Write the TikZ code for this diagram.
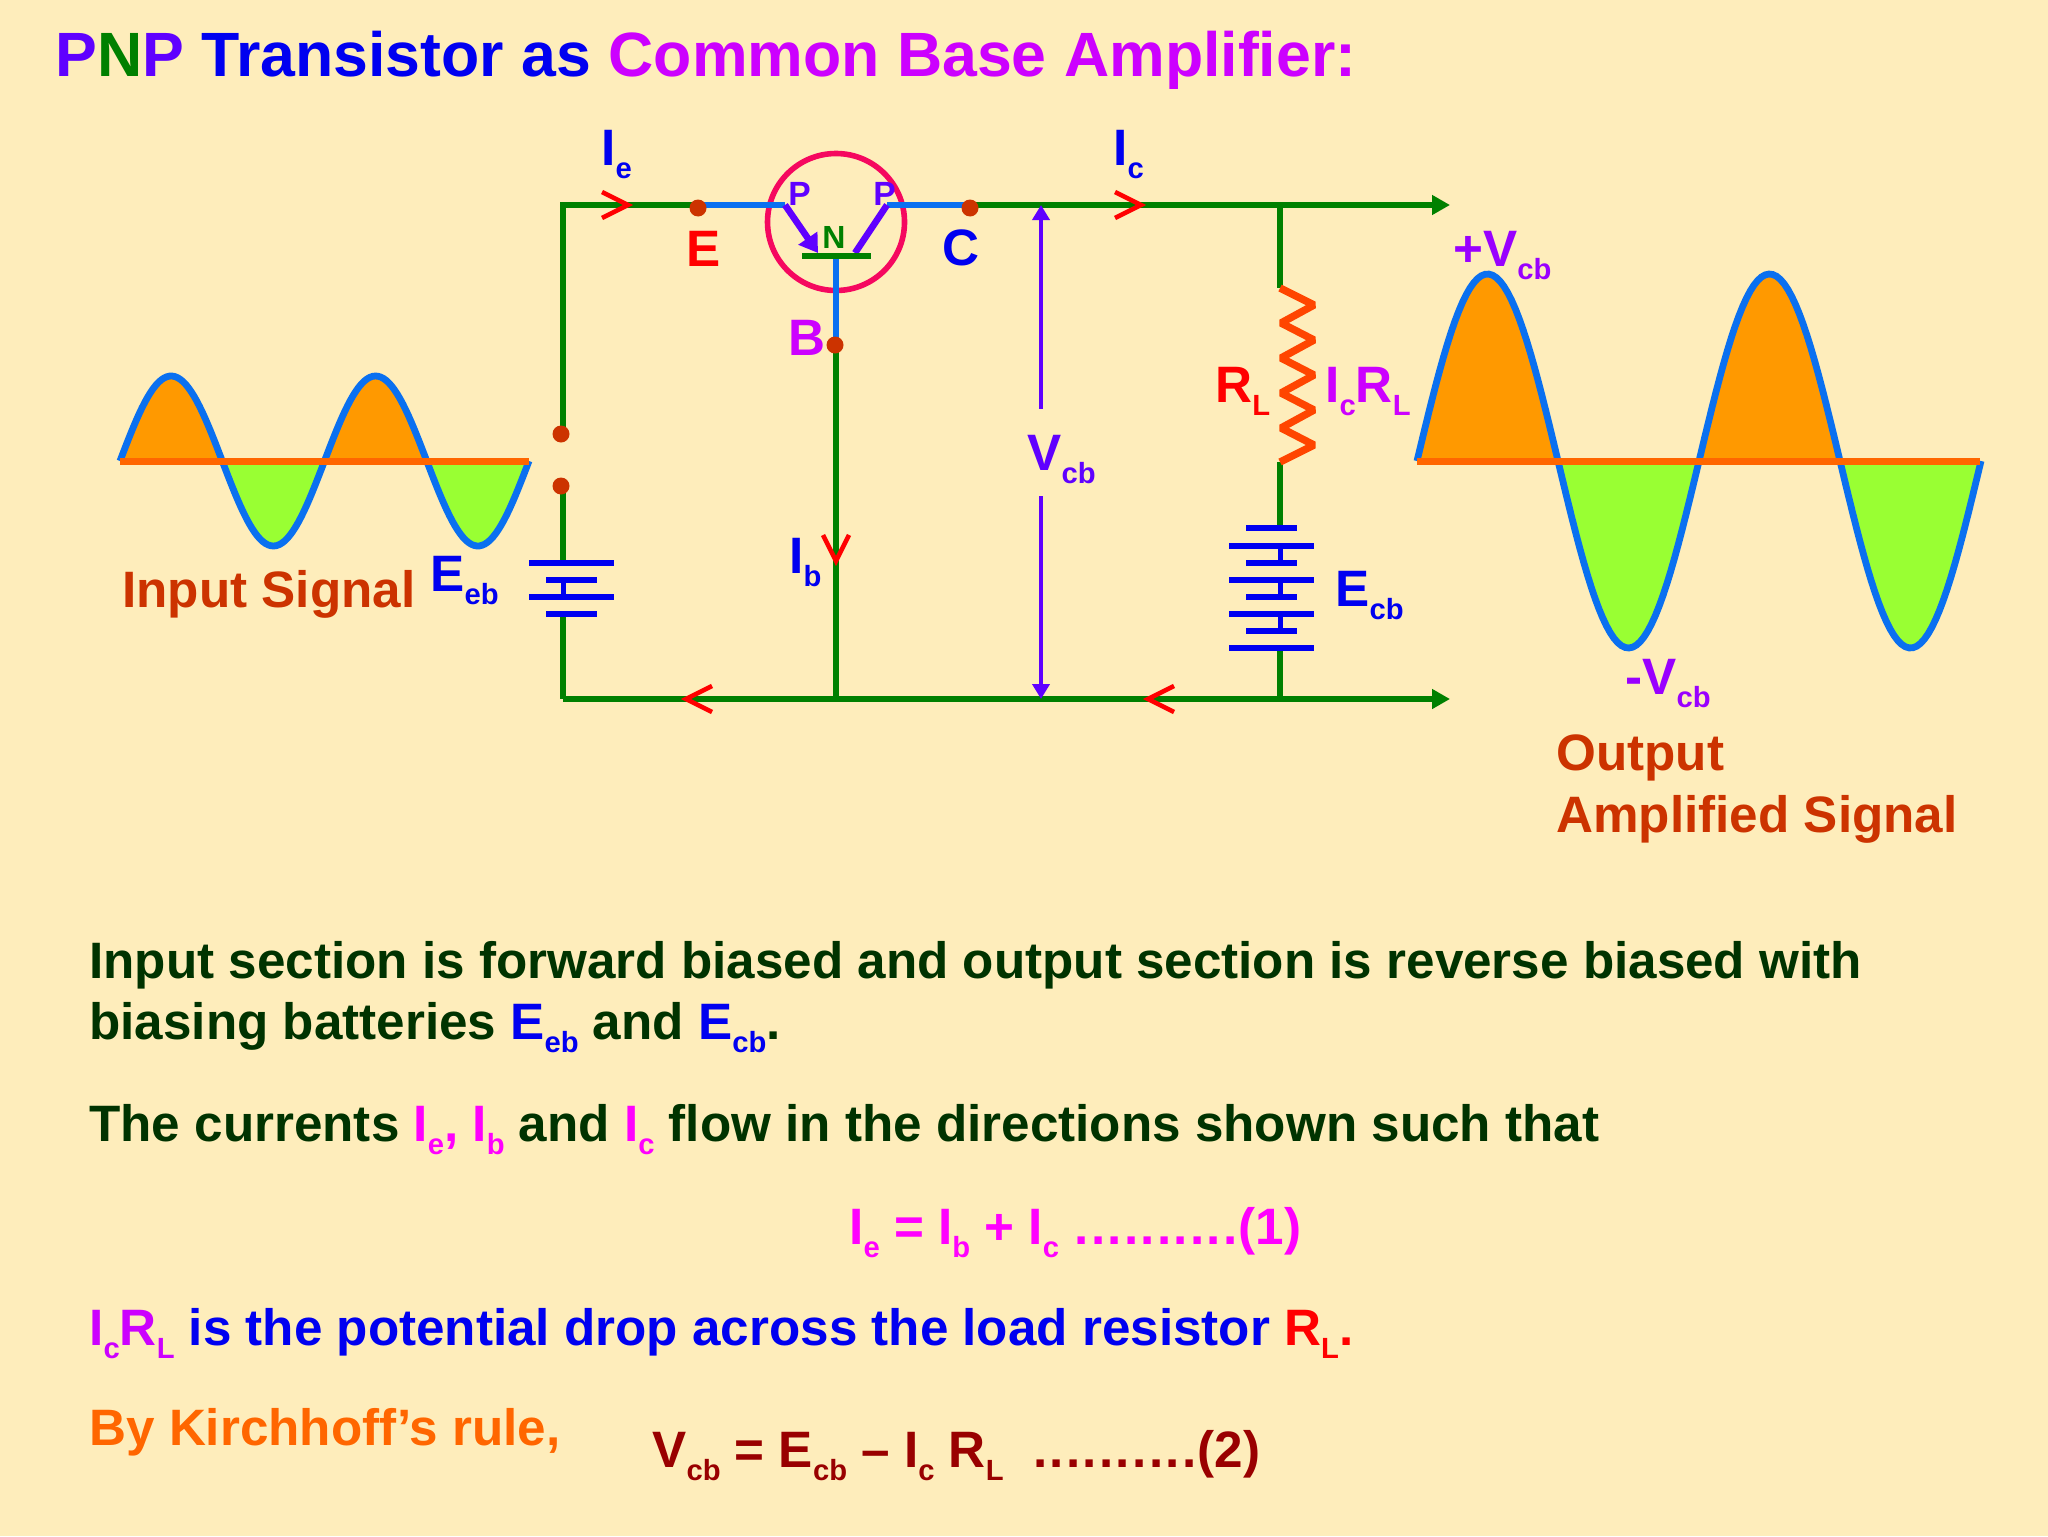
\documentclass[tikz,border=0pt]{standalone}
\usepackage{fontspec}
\setmainfont{Liberation Sans}
\usetikzlibrary{arrows.meta}
\definecolor{bgc}{HTML}{FEEDBB}
\definecolor{wirec}{HTML}{008000}
\definecolor{bluew}{HTML}{0A70F0}
\definecolor{purp}{HTML}{5F00FF}
\definecolor{violet2}{HTML}{CC00FF}
\definecolor{violet3}{HTML}{9900FF}
\definecolor{blue2}{HTML}{0000F0}
\definecolor{rust}{HTML}{CC3300}
\definecolor{dkgreen}{HTML}{003300}
\definecolor{mag}{HTML}{FF00FF}
\definecolor{maroon2}{HTML}{990000}
\definecolor{orng}{HTML}{FF6600}
\definecolor{pinkc}{HTML}{F5085F}
\definecolor{fillo}{HTML}{FF9900}
\definecolor{fillg}{HTML}{99FF33}
\definecolor{resc}{HTML}{FF4500}
\newcommand\subt[1]{\raisebox{-0.27em}{\fontsize{14.6}{16}\selectfont #1}}
\newcommand\onedot{\hbox to 0.323em{\hss.\hss}}
\newcommand\tendots{\onedot\onedot\onedot\onedot\onedot\onedot\onedot\onedot\onedot\onedot}
\tikzset{
 txt/.style={inner sep=0pt,anchor=base west,font=\bfseries\fontsize{25.6}{30}\selectfont},
 title/.style={inner sep=0pt,anchor=base west,font=\bfseries\fontsize{31.3}{36}\selectfont},
 small/.style={inner sep=0pt,anchor=base west,font=\bfseries\fontsize{16}{18}\selectfont},
 wire/.style={wirec,line width=3.3pt},
 bwire/.style={bluew,line width=3.3pt},
 barb/.style={red,line width=2.3pt,line join=miter},
 dotn/.style={circle,fill=rust,inner sep=0pt,minimum size=8.5pt},
 bat/.style={blue2,line width=3.3pt},
 sine/.style={bluew,line width=3.4pt},
 zero/.style={orng,line width=3.5pt},
 tipg/.style={-{Triangle[length=9pt,width=9.5pt]}},
 volt/.style={purp,line width=2.2pt},
}
\begin{document}
\begin{tikzpicture}[x=0.5pt,y=-0.5pt]
\fill[bgc] (0,0) rectangle (2048,1536);
\useasboundingbox (0,0) rectangle (2048,1536);

% coordinates
\coordinate (tl) at (563,205);
\coordinate (bl) at (563,699);
\coordinate (tr) at (1450,205);
\coordinate (br) at (1450,699);
\coordinate (j1) at (1280,205);
\coordinate (j2) at (1280,699);
\coordinate (j3) at (836,699);
\coordinate (rt) at (1280,288);
\coordinate (rb) at (1280,462);
\coordinate (vt) at (1041,205);
\coordinate (vb) at (1041,699);
\coordinate (vm1) at (1041,409);
\coordinate (vm2) at (1041,496);
\coordinate (ej) at (785,205);
\coordinate (cj) at (887,205);
\coordinate (et) at (818,253);
\coordinate (ct) at (855,253);
\coordinate (bj) at (836,256);
\coordinate (bb1) at (802,256);
\coordinate (bb2) at (871,256);
\coordinate (eb1) at (563,563);
\coordinate (eb2) at (563,614);
\coordinate (ecb1) at (1280,528);
\coordinate (ecb2) at (1280,648);
\coordinate (wa) at (563,434);
\coordinate (wb) at (563,486);
\coordinate (we) at (698,205);
\coordinate (wc) at (970,205);
\coordinate (wbase) at (836,345);

% input sine
\fill[fillo] plot[domain=0:180,samples=50] ({120+\x/360*204.5},{461-85*sin(\x)}) -- cycle;
\fill[fillg] plot[domain=180:360,samples=50] ({120+\x/360*204.5},{461-85*sin(\x)}) -- cycle;
\fill[fillo] plot[domain=360:540,samples=50] ({120+\x/360*204.5},{461-85*sin(\x)}) -- cycle;
\fill[fillg] plot[domain=540:720,samples=50] ({120+\x/360*204.5},{461-85*sin(\x)}) -- cycle;
\draw[sine] plot[domain=0:720,samples=150] ({120+\x/360*204.5},{461-85*sin(\x)});
\draw[zero] (120,461) -- (529,461);

% output sine
\fill[fillo] plot[domain=0:180,samples=50] ({1417+\x/360*282},{461-187*sin(\x)}) -- cycle;
\fill[fillg] plot[domain=180:360,samples=50] ({1417+\x/360*282},{461-187*sin(\x)}) -- cycle;
\fill[fillo] plot[domain=360:540,samples=50] ({1417+\x/360*282},{461-187*sin(\x)}) -- cycle;
\fill[fillg] plot[domain=540:720,samples=50] ({1417+\x/360*282},{461-187*sin(\x)}) -- cycle;
\draw[sine] plot[domain=0:720,samples=150] ({1417+\x/360*282},{461-187*sin(\x)});
\draw[zero] (1417,461) -- (1980,461);

% circuit wires
\draw[wire,line join=miter] (wa) -- (tl) -- (we);
\draw[wire] (wc) -- (j1);
\draw[wire,tipg] (j1) -- (tr);
\draw[wire] (wb) -- (eb1);
\draw[wire] (eb2) -- (bl);
\draw[wire,tipg] (bl) -- (br);
\draw[wire] (j1) -- (rt);
\draw[wire] (rb) -- (ecb1);
\draw[wire] (ecb2) -- (j2);
\draw[wire] (wbase) -- (j3);

% load resistor
\draw[resc,line width=3.7pt,line join=miter,miter limit=2]
 (rt) -- (1314,305) -- (1281,323) -- (1314,340) -- (1281,358) -- (1314,375)
 -- (1281,393) -- (1314,410) -- (1281,428) -- (1314,445) -- (rb);

% transistor
\node[circle,draw=pinkc,line width=2.8pt,minimum size=68.5pt,inner sep=0pt] (tr1) at (836,222) {};
\draw[bwire] (we) -- (ej);
\draw[bwire] (cj) -- (wc);
\draw[purp,line width=3.3pt,-{Triangle[length=9pt,width=11pt]}] (ej) -- (et);
\draw[purp,line width=3.3pt] (cj) -- (ct);
\draw[bwire] (bj) -- (wbase);
\draw[wire] (bb1) -- (bb2);

% dots
\node[dotn] (dA) at (561,434) {};
\node[dotn] (dB) at (561,486) {};
\node[dotn] (dE) at (698,208) {};
\node[dotn] (dC) at (970,208) {};
\node[dotn] (dBase) at (835,345) {};

% current barbs
\coordinate (ie) at (628,205);
\coordinate (ic) at (1141,205);
\coordinate (ib) at (836,561);
\coordinate (il) at (686,699);
\coordinate (ir) at (1148,699);
\draw[barb] (ie) ++(-26,-13) -- (ie) -- ++(-26,13);
\draw[barb] (ic) ++(-26,-13) -- (ic) -- ++(-26,13);
\draw[barb] (ib) ++(-13,-26) -- (ib) -- ++(13,-26);
\draw[barb] (il) ++(26,-13) -- (il) -- ++(26,13);
\draw[barb] (ir) ++(26,-13) -- (ir) -- ++(26,13);

% Vcb
\draw[volt,{Triangle[length=7.5pt,width=8.5pt]}-] (vt) -- (vm1);
\draw[volt,-{Triangle[length=7.5pt,width=8.5pt]}] (vm2) -- (vb);

% batteries
\draw[bat] (529,563) -- (614,563);
\draw[bat] (546,580) -- (597,580);
\draw[bat] (529,597) -- (614,597);
\draw[bat] (546,614) -- (597,614);
\draw[blue2,line width=2.5pt] (563,580) -- (563,597);
\draw[bat] (1246,528) -- (1297,528);
\draw[bat] (1229,546) -- (1314,546);
\draw[bat] (1246,563) -- (1297,563);
\draw[bat] (1229,580) -- (1314,580);
\draw[bat] (1246,597) -- (1297,597);
\draw[bat] (1229,614) -- (1314,614);
\draw[bat] (1246,631) -- (1297,631);
\draw[bat] (1229,648) -- (1314,648);
\draw[blue2,line width=2.5pt] (1280,546) -- (1280,563);
\draw[blue2,line width=2.5pt] (1280,580) -- (1280,597);
\draw[blue2,line width=2.5pt] (1280,614) -- (1280,631);

% title
\node[title] (ttl) at (55,76) {\textcolor{purp}{P}\textcolor{wirec}{N}\textcolor{purp}{P} \textcolor{blue2}{Transistor as} \textcolor{violet2}{Common Base Amplifier:}};

% diagram labels
\node[small,purp] (lp1) at (788,205) {\fontsize{16.8}{18}\selectfont P};
\node[small,purp] (lp2) at (873,205) {\fontsize{16.8}{18}\selectfont P};
\node[small,wirec] (ln) at (822,248) {N};
\node[txt,blue2] (lie) at (601,165) {I\subt{e}};
\node[txt,blue2] (lic) at (1113,165) {I\subt{c}};
\node[txt,blue2] (lib) at (789,573) {I\subt{b}};
\node[txt,red] (le) at (686,266) {E};
\node[txt,blue2] (lc) at (942,265) {C};
\node[txt,violet2] (lb) at (788,355) {B};
\node[txt,purp] (lv) at (1027,470) {V\subt{cb}};
\node[txt,red] (lr) at (1215,402) {R\subt{L}};
\node[txt,violet2] (lir) at (1325,402) {I\subt{c}R\subt{L}};
\node[txt,blue2] (lecb) at (1335,606) {E\subt{cb}};
\node[txt,blue2] (leeb) at (430,591) {E\subt{eb}};
\node[txt,violet3] (lpv) at (1453,266) {+V\subt{cb}};
\node[txt,violet3] (lmv) at (1625,694) {-V\subt{cb}};
\node[txt,rust] (lin) at (122,607) {Input Signal};
\node[txt,rust] (lo1) at (1556,770) {Output};
\node[txt,rust] (lo2) at (1556,832) {Amplified Signal};

% body text
\node[txt,dkgreen] (t1) at (89,978) {Input section is forward biased and output section is reverse biased with};
\node[txt,dkgreen] (t2) at (89,1039) {biasing batteries \textcolor{blue2}{E\subt{eb}} and \textcolor{blue2}{E\subt{cb}}.};
\node[txt,dkgreen] (t3) at (89,1141) {The currents \textcolor{mag}{I\subt{e}, I\subt{b}} and \textcolor{mag}{I\subt{c}} flow in the directions shown such that};
\node[txt,mag] (t4) at (849,1244) {I\subt{e} = I\subt{b} + I\subt{c} \tendots(1)};
\node[txt,blue2] (t5) at (89,1345) {\textcolor{violet2}{I\subt{c}R\subt{L}} is the potential drop across the load resistor \textcolor{red}{R\subt{L}.}};
\node[txt,orng] (t6) at (89,1445) {By Kirchhoff’s rule,};
\node[txt,maroon2] (t7) at (652,1467) {V\subt{cb} = E\subt{cb} – I\subt{c} R\subt{L}\ \ \tendots(2)};
\end{tikzpicture}
\end{document}
